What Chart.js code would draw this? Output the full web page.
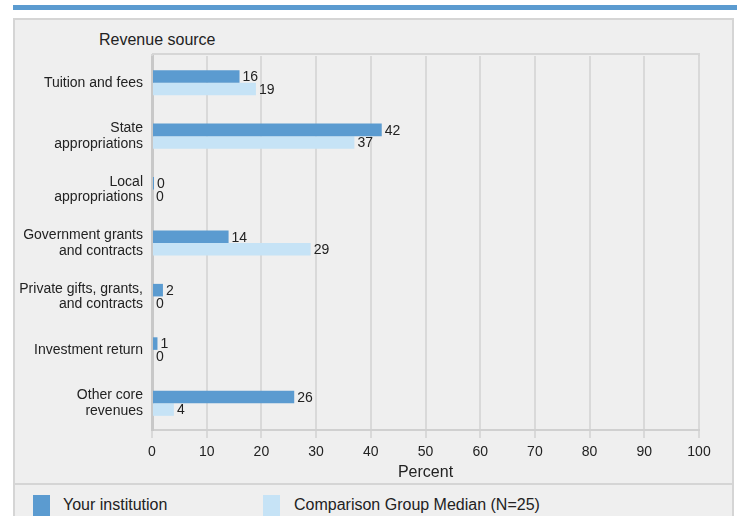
<!DOCTYPE html>
<html>
<head>
<meta charset="utf-8">
<script src="https://cdn.jsdelivr.net/npm/chart.js@4/dist/chart.umd.min.js"></script>
<style>
  html, body { margin:0; padding:0; background:#ffffff; width:739px; height:516px; overflow:hidden; font-family:"Liberation Sans", Arial, sans-serif; }
  #topbar { position:absolute; left:13px; top:5px; width:724px; height:5px; background:#5b9bd0; }
  #panel { position:absolute; left:13px; top:18px; width:721px; height:520px; box-sizing:border-box; border:2px solid #d5d5d5; background:#efefef; }
  #sep { position:absolute; left:13px; top:483px; width:721px; height:2px; background:#d5d5d5; }
  #wrap { position:absolute; left:0; top:0; width:739px; height:484px; }
  #ytitle { position:absolute; left:99px; top:31px; font-size:16px; color:#222; white-space:nowrap; }
  .lg { position:absolute; top:496px; font-size:16px; color:#222; white-space:nowrap; }
  .box { position:absolute; top:495px; width:17px; height:22px; }
</style>
</head>
<body>
<div id="topbar"></div>
<div id="panel"></div>
<div id="sep"></div>
<div id="ytitle"></div>
<div id="legend"></div>
<div id="wrap"><canvas id="c"></canvas></div>
<script>
const categories = [
  "Tuition and fees",
  ["State", "appropriations"],
  ["Local", "appropriations"],
  ["Government grants", "and contracts"],
  ["Private gifts, grants,", "and contracts"],
  "Investment return",
  ["Other core", "revenues"]
];
const yourInstitution = [16, 42, 0, 14, 2, 1, 26];
const comparisonMedian = [19, 37, 0, 29, 0, 0, 4];
const seriesLabels = ["Your institution", "Comparison Group Median (N=25)"];
const seriesColors = ["#5b9bd0", "#c6e3f6"];
const xTicks = [0, 10, 20, 30, 40, 50, 60, 70, 80, 90, 100];
const yAxisTitle = "Revenue source";
const xAxisTitle = "Percent";

document.getElementById('ytitle').textContent = yAxisTitle;
const lg = document.getElementById('legend');
const boxLefts = [33, 263], textLefts = [63, 294];
seriesLabels.forEach((l, i) => {
  const b = document.createElement('div'); b.className = 'box';
  b.style.left = boxLefts[i] + 'px'; b.style.background = seriesColors[i];
  lg.appendChild(b);
  const t = document.createElement('div'); t.className = 'lg';
  t.style.left = textLefts[i] + 'px'; t.textContent = l;
  lg.appendChild(t);
});

Chart.defaults.font.family = '"Liberation Sans", Arial, sans-serif';
Chart.defaults.color = '#222';

const topBorder = {
  id: 'topBorder',
  beforeDatasetsDraw(chart) {
    const {ctx, chartArea} = chart;
    ctx.save();
    ctx.strokeStyle = '#d6d6d6';
    ctx.lineWidth = 2;
    ctx.beginPath();
    ctx.moveTo(chartArea.left, chartArea.top - 2);
    ctx.lineTo(chartArea.right + 1, chartArea.top - 2);
    ctx.moveTo(chartArea.right, chartArea.top - 2);
    ctx.lineTo(chartArea.right, chartArea.top);
    ctx.moveTo(chartArea.left, chartArea.top - 2);
    ctx.lineTo(chartArea.left, chartArea.top);
    ctx.stroke();
    ctx.restore();
  }
};

const valueLabels = {
  id: 'valueLabels',
  afterDatasetsDraw(chart) {
    const {ctx} = chart;
    ctx.save();
    ctx.font = '14px "Liberation Sans", Arial, sans-serif';
    ctx.fillStyle = '#222';
    ctx.textAlign = 'left';
    ctx.textBaseline = 'middle';
    chart.data.datasets.forEach((ds, di) => {
      const meta = chart.getDatasetMeta(di);
      meta.data.forEach((el, i) => {
        ctx.fillText(String(ds.data[i]), el.x + 3, el.y + 1);
      });
    });
    ctx.restore();
  }
};

new Chart(document.getElementById('c'), {
  type: 'bar',
  data: {
    labels: categories,
    datasets: [
      { label: seriesLabels[0], data: yourInstitution, backgroundColor: seriesColors[0], minBarLength: 2,
        categoryPercentage: 0.47, barPercentage: 1.0 },
      { label: seriesLabels[1], data: comparisonMedian, backgroundColor: seriesColors[1], minBarLength: 1,
        categoryPercentage: 0.47, barPercentage: 1.0 }
    ]
  },
  options: {
    indexAxis: 'y',
    responsive: true,
    maintainAspectRatio: false,
    animation: false,
    layout: { padding: { top: 56, right: 40, left: 0, bottom: 0 } },
    plugins: { legend: { display: false }, tooltip: { enabled: false }, title: { display: false } },
    scales: {
      x: {
        min: 0, max: 100,
        afterBuildTicks(scale) { scale.ticks = xTicks.map(v => ({ value: v })); },
        afterFit(scale) { scale.height = 54; },
        grid: { color: '#d9d9d9', lineWidth: 2, drawTicks: true, tickLength: 8 },
        border: { display: true, color: '#d0d0d0', width: 2 },
        ticks: { font: { size: 14 }, color: '#222', padding: 6, maxRotation: 0 },
        title: { display: true, text: xAxisTitle, font: { size: 16 }, color: '#222', padding: { top: 0, bottom: 2 } }
      },
      y: {
        afterFit(scale) { scale.width = 152; },
        grid: { display: false, drawTicks: false },
        border: { display: true, color: '#c8c8c8', width: 3 },
        ticks: { font: { size: 14, lineHeight: 1.1 }, color: '#222', padding: 9 }
      }
    }
  },
  plugins: [topBorder, valueLabels]
});
</script>
</body>
</html>
